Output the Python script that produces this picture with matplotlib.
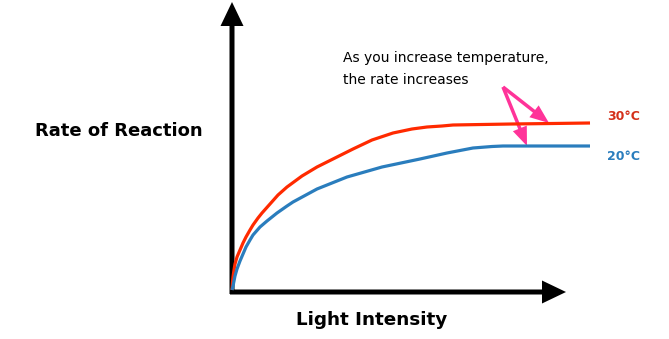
import matplotlib.pyplot as plt

# curves (arbitrary units, origin at the axes corner)
light_30 = [0, 0.5, 1, 2, 3, 5, 8, 11, 14, 18, 21, 26, 30, 38, 46, 55, 70, 85, 103, 121, 140, 161, 180, 195, 210, 221, 250, 280, 320, 358]
rate_30 = [0, 8, 13, 20, 26, 33, 40, 47, 53, 60, 65, 72, 77, 86, 95, 103, 114, 123, 132, 141, 150, 157, 161, 163, 164, 165, 165.5, 166, 166.5, 167]
light_20 = [0, 0.5, 1, 2, 3, 5, 8, 11, 14, 18, 21, 28, 35, 45, 55, 61, 85, 115, 150, 188, 215, 241, 260, 271, 300, 358]
rate_20 = [0, 2, 4, 9, 14, 21, 29, 36, 43, 50, 55, 63, 69, 77, 84, 88, 101, 113, 123, 131, 137, 142, 143.5, 144, 144, 144]

red = '#ff2a00'
blue = '#2a7dbd'
pink = '#ff3399'

fig = plt.figure(figsize=(6.69, 3.39), dpi=100)
ax = fig.add_axes([0, 0, 1, 1])
ax.set_xlim(-232, 437)
ax.set_ylim(-49, 290)
ax.axis('off')

# axes drawn as thick arrows
ax.arrow(0, -4, 0, 292, width=5, head_width=23, head_length=24,
         length_includes_head=True, color='black', lw=0)
ax.arrow(-2, -2, 336, 0, width=5, head_width=23, head_length=24,
         length_includes_head=True, color='black', lw=0)

ax.plot(light_30, rate_30, color=red, lw=2.3, solid_capstyle='butt')
ax.plot(light_20, rate_20, color=blue, lw=2.3, solid_capstyle='butt')

ax.text(375, 174, '30°C', color='#d4301a', fontsize=9, fontweight='bold', va='center')
ax.text(375, 134, '20°C', color=blue, fontsize=9, fontweight='bold', va='center')

ax.text(-197, 159, 'Rate of Reaction', fontsize=13, fontweight='bold', va='center')
ax.text(140, -30, 'Light Intensity', fontsize=13.2, fontweight='bold', ha='center', va='center')

ax.text(111, 221, 'As you increase temperature,\nthe rate increases', fontsize=10,
        va='center', linespacing=1.75)

for tx, ty in [(317, 167), (295, 144)]:
    ax.arrow(271, 203, tx - 271, ty - 203, width=3.5, head_width=15, head_length=19,
             length_includes_head=True, color=pink, lw=0)

fig.savefig('out.png', dpi=100)
